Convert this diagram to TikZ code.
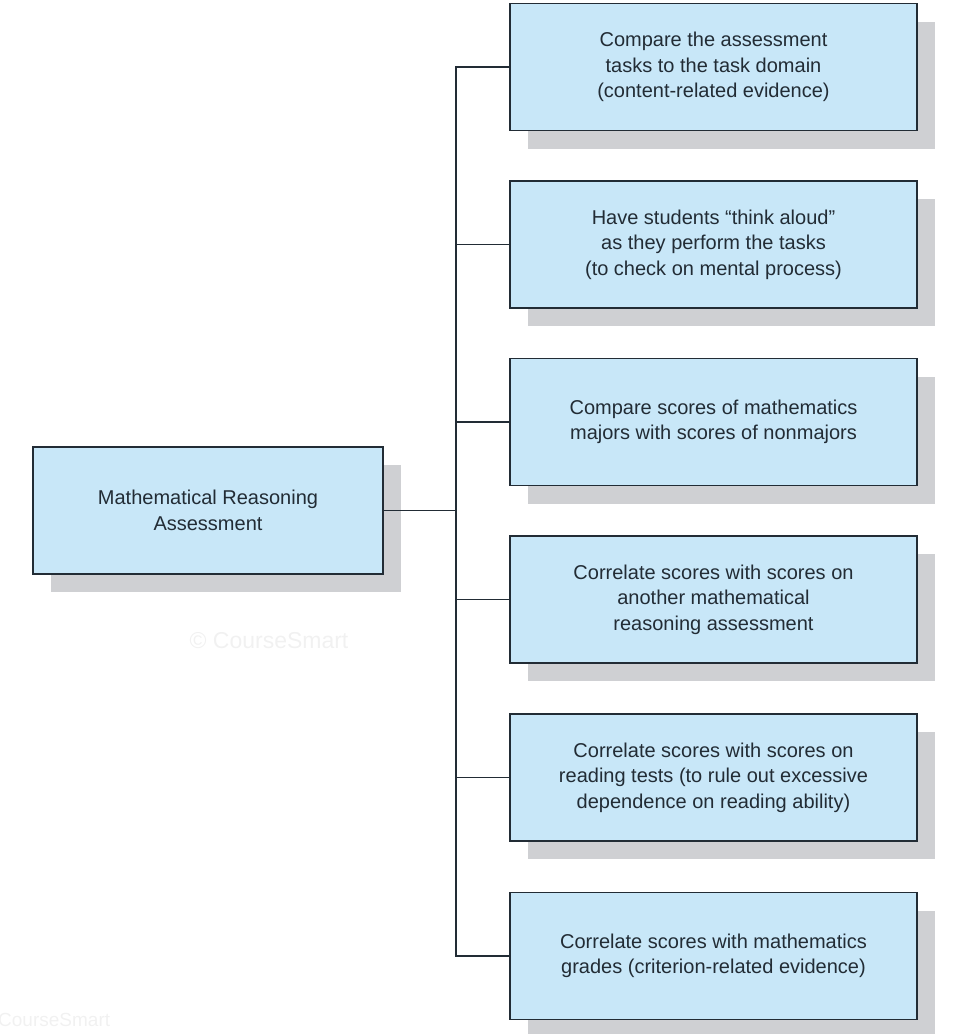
\documentclass[tikz,border=0pt]{standalone}
\usepackage{fontspec}
\setmainfont{Liberation Sans}
\usetikzlibrary{shadows}
\definecolor{boxblue}{HTML}{C8E7F8}
\definecolor{boxshade}{HTML}{CFD0D3}
\definecolor{inkdark}{HTML}{222C35}
\definecolor{markgray}{HTML}{F1F1F1}
\tikzset{
    taskbox/.style={draw=inkdark, line width=1.2pt, fill=boxblue, text=inkdark,
        align=center, minimum width=407pt, minimum height=127pt,
        font=\fontsize{20}{25.5}\selectfont,
        general shadow={fill=boxshade, shadow xshift=18pt, shadow yshift=-18pt}},
    link/.style={draw=inkdark, line width=1.2pt}
}
\begin{document}
\begin{tikzpicture}[x=1pt, y=-1pt]
    \useasboundingbox (0,0) rectangle (955,1034);
    % faint watermarks
    \node[text=markgray, font=\fontsize{23}{27}\selectfont] (mark1) at (269,641) {© CourseSmart};
    \node[text=markgray, font=\fontsize{19}{24}\selectfont, anchor=west, inner sep=0pt] (mark2) at (-2,1020) {CourseSmart};
    % main box
    \node[taskbox, minimum width=350pt] (root) at (208,510.5) {Mathematical Reasoning\\Assessment};
    % the six tasks
    \node[taskbox] (t1) at (713.5,67) {Compare the assessment\\tasks to the task domain\\(content-related evidence)};
    \node[taskbox] (t2) at (713.5,244.5) {Have students “think aloud”\\as they perform the tasks\\(to check on mental process)};
    \node[taskbox] (t3) at (713.5,422) {Compare scores of mathematics\\majors with scores of nonmajors};
    \node[taskbox] (t4) at (713.5,599.5) {Correlate scores with scores on\\another mathematical\\reasoning assessment};
    \node[taskbox] (t5) at (713.5,777.5) {Correlate scores with scores on\\reading tests (to rule out excessive\\dependence on reading ability)};
    \node[taskbox] (t6) at (713.5,956) {Correlate scores with mathematics\\grades (criterion-related evidence)};
    % connectors
    \coordinate (spine) at (456,0);
    \draw[link] (t1.west) -- (t1.west -| spine) -- (t6.west -| spine) -- (t6.west);
    \foreach \i in {2,...,5}
        \draw[link] (t\i.west) -- (t\i.west -| spine);
    \draw[link] (root.east) -- (root.east -| spine);
\end{tikzpicture}
\end{document}
